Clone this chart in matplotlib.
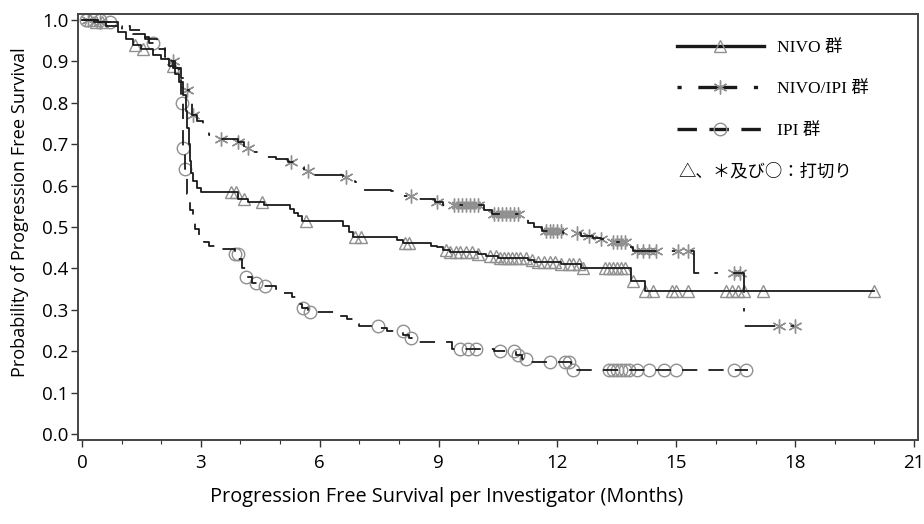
import numpy as np
import matplotlib
matplotlib.use("Agg")
import matplotlib.pyplot as plt
from matplotlib.lines import Line2D
from matplotlib.font_manager import FontProperties

plt.rcParams['font.family'] = ['Open Sans', 'DejaVu Sans']
plt.rcParams['lines.scale_dashes'] = False

# ---------------- data ----------------
nivo_t = [0, 0.3, 0.6, 0.9, 1.1, 1.3, 1.5, 1.8, 2.0, 2.2, 2.35, 2.45, 2.55, 2.62, 2.66, 2.69,
          2.72, 2.74, 2.8, 2.9, 3.0, 3.95, 4.2, 4.6, 5.25, 5.35, 5.45, 5.55, 6.6, 6.75, 6.85,
          7.95, 8.1, 8.8, 8.95, 9.1, 9.3, 10.0, 10.2, 10.5, 11.25, 11.4, 12.1, 12.6, 13.85, 14.2]
nivo_s = [1.0, 0.995, 0.985, 0.97, 0.955, 0.94, 0.93, 0.915, 0.905, 0.89, 0.87, 0.85, 0.82, 0.78, 0.74, 0.70,
          0.66, 0.63, 0.61, 0.595, 0.584, 0.567, 0.56, 0.552, 0.543, 0.535, 0.527, 0.515, 0.503, 0.488, 0.476,
          0.468, 0.462, 0.455, 0.452, 0.445, 0.44, 0.435, 0.43, 0.426, 0.42, 0.415, 0.41, 0.402, 0.37, 0.345]
nivo_end = 20.0
nivo_cens = [0.2, 0.35, 0.5, 1.35, 1.55, 2.3, 3.75, 3.9, 4.1, 4.55, 5.65, 6.9, 7.05, 8.15, 8.25,
             9.2, 9.3, 9.45, 9.55, 9.7, 9.85, 10.0, 10.3, 10.45, 10.55, 10.65, 10.75, 10.85, 10.95,
             11.05, 11.2, 11.35, 11.5, 11.65, 11.8, 11.95, 12.1, 12.3, 12.4, 12.55, 12.65,
             13.2, 13.3, 13.4, 13.5, 13.6, 13.7, 13.9, 14.2, 14.4, 14.9, 15.0, 15.3,
             16.25, 16.4, 16.55, 16.7, 17.2, 20.0]

combo_t = [0, 0.4, 0.8, 1.0, 1.3, 1.6, 1.9, 2.1, 2.25, 2.35, 2.5, 2.6, 2.7, 2.77, 2.9, 3.05, 3.2,
           3.5, 3.95, 4.1, 4.25, 4.5, 4.9, 5.2, 5.4, 5.6, 5.8, 6.6, 6.9, 7.0, 7.8, 8.1, 8.4, 8.9,
           9.1, 10.15, 10.35, 11.1, 11.25, 11.4, 11.6, 12.15, 12.6, 12.9, 13.1, 13.35, 13.8, 13.9,
           15.45, 16.7]
combo_s = [1.0, 0.995, 0.985, 0.975, 0.965, 0.955, 0.94, 0.92, 0.9, 0.885, 0.86, 0.832, 0.80, 0.77, 0.755, 0.74, 0.723,
           0.712, 0.705, 0.69, 0.68, 0.67, 0.665, 0.657, 0.645, 0.635, 0.625, 0.62, 0.608, 0.59, 0.587, 0.575, 0.567, 0.56,
           0.552, 0.54, 0.531, 0.52, 0.51, 0.5, 0.49, 0.485, 0.478, 0.474, 0.47, 0.464, 0.452, 0.442,
           0.39, 0.26]
combo_end = 18.0
combo_cens = [0.15, 0.45, 2.3, 2.64, 2.81, 3.52, 3.95, 4.2, 5.28, 5.7, 6.66, 8.3, 8.95,
              9.4, 9.5, 9.6, 9.7, 9.8, 9.9, 10.0, 10.4, 10.5, 10.6, 10.7, 10.8, 10.9, 11.0,
              11.7, 11.8, 11.9, 12.0, 12.1, 12.5, 12.8, 13.1, 13.4, 13.5, 13.6, 13.7,
              14.0, 14.15, 14.3, 14.5, 15.05, 15.3, 16.45, 16.6, 17.6, 18.0]

ipi_t = [0, 0.5, 0.9, 1.2, 1.5, 1.7, 1.9, 2.1, 2.3, 2.45, 2.5, 2.54, 2.56, 2.6, 2.65, 2.72, 2.8,
         2.86, 2.95, 3.07, 3.2, 3.36, 3.85, 3.95, 4.05, 4.15, 4.3, 4.45, 4.9, 5.1, 5.3, 5.45, 5.55,
         5.7, 6.5, 6.7, 6.85, 7.0, 7.5, 7.7, 8.1, 8.25, 8.5, 9.35, 10.4, 10.95, 11.1, 11.3, 12.35]
ipi_s = [1.0, 0.995, 0.985, 0.975, 0.96, 0.945, 0.93, 0.91, 0.885, 0.86, 0.80, 0.74, 0.69, 0.64, 0.58, 0.54, 0.51,
         0.495, 0.48, 0.464, 0.455, 0.447, 0.435, 0.422, 0.40, 0.38, 0.365, 0.358, 0.35, 0.34, 0.33, 0.315, 0.305,
         0.295, 0.285, 0.278, 0.265, 0.26, 0.255, 0.248, 0.24, 0.232, 0.222, 0.206, 0.2, 0.19, 0.18, 0.175, 0.155]
ipi_end = 16.8
ipi_cens = [0.1, 0.45, 0.7, 1.8, 2.52, 2.56, 2.6, 3.87, 3.94, 4.15, 4.4, 4.62, 5.58, 5.75, 7.46,
            8.09, 8.3, 9.55, 9.75, 9.95, 10.55, 10.9, 11.0, 11.2, 11.8, 12.2, 12.3, 12.4,
            13.3, 13.4, 13.5, 13.6, 13.7, 13.8, 14.0, 14.3, 14.7, 15.0, 16.45, 16.75]

labels = ['NIVO 群', 'NIVO/IPI 群', 'IPI 群']
note = '△、＊及び○：打切り'
xlabel = 'Progression Free Survival per Investigator (Months)'
ylabel = 'Probability of Progression Free Survival'
xticks = [0, 3, 6, 9, 12, 15, 18, 21]
yticks = [0.0, 0.1, 0.2, 0.3, 0.4, 0.5, 0.6, 0.7, 0.8, 0.9, 1.0]

# ---------------- drawing ----------------
fig = plt.figure(figsize=(9.24, 5.24), dpi=100)
ax = fig.add_axes([78 / 924, 1 - 440 / 524, (918 - 78) / 924, (440 - 14) / 524])

line_col = '#1a1a1a'
mk_col = '#909090'
styles = [
    dict(ls='-', marker='^', ms=9),
    dict(ls=(0, (22, 11, 2.5, 11)), marker=(6, 2, 0), ms=10),
    dict(ls=(0, (11, 8)), marker='o', ms=9),
]
series = [(nivo_t, nivo_s, nivo_end, nivo_cens),
          (combo_t, combo_s, combo_end, combo_cens),
          (ipi_t, ipi_s, ipi_end, ipi_cens)]

handles = []
for (t, s, tend, cens), st, lab in zip(series, styles, labels):
    tt = np.array(list(t) + [tend])
    ss = np.array(list(s) + [s[-1]])
    ax.step(tt, ss, where='post', color=line_col, lw=1.3, linestyle=st['ls'], zorder=3)
    c = np.array(cens)
    idx = np.searchsorted(np.array(t), c, side='right') - 1
    cy = np.array(s)[idx]
    ax.plot(c, cy, linestyle='none', marker=st['marker'], ms=st['ms'],
            mfc='none', mec=mk_col, mew=1.0, zorder=2)
    hls = st['ls'] if st['ls'] == '-' else ((0, (3, 12, 28, 12)) if st['marker'] != 'o' else (0, (14, 9)))
    handles.append(Line2D([0], [0], color=line_col, lw=2.4, linestyle=hls,
                          marker=st['marker'], ms=st['ms'], mfc='none', mec=mk_col, mew=1.0))

ax.set_xlim(-0.1, 21.1)
ax.set_ylim(-0.0145, 1.0145)
ax.set_xticks(xticks)
ax.set_xticks(np.arange(0, 22, 1), minor=True)
ax.set_yticks(yticks)
ax.set_yticklabels([f'{v:.1f}' for v in yticks])
ax.tick_params(axis='both', labelsize=13.5, length=5, width=1, color='#333333')
ax.tick_params(axis='x', pad=5)
ax.tick_params(axis='y', pad=2)
ax.tick_params(axis='x', which='minor', length=3, width=0.8, color='#333333')
for sp in ax.spines.values():
    sp.set_color('#444444')
    sp.set_linewidth(1.4)

ax.set_xlabel(xlabel, fontsize=14.3)
ax.set_ylabel(ylabel, fontsize=13.1)
ax.xaxis.set_label_coords((447 - 78) / 840, -(497 - 440) / 426, transform=ax.transAxes)
ax.xaxis.label.set_va('center')
ax.yaxis.set_label_coords(-(78 - 20) / 840, (440 - 212) / 426, transform=ax.transAxes)
ax.yaxis.label.set_va('center')

leg_font = FontProperties(family=['Liberation Serif', 'Noto Sans CJK JP'], size=12.5)
note_font = FontProperties(family=['Noto Sans CJK JP', 'DejaVu Sans'], size=12.5)
leg = fig.legend(handles, labels, loc='upper left', bbox_to_anchor=(677 / 924, 1 - 40 / 524),
                 frameon=False, prop=leg_font, handlelength=5.0, handletextpad=0.75,
                 labelspacing=1.45, borderpad=0, borderaxespad=0, numpoints=1)
fig.text(678 / 924, 1 - 171 / 524, note, fontproperties=note_font, va='center', ha='left')

fig.savefig('out.png', dpi=100)
